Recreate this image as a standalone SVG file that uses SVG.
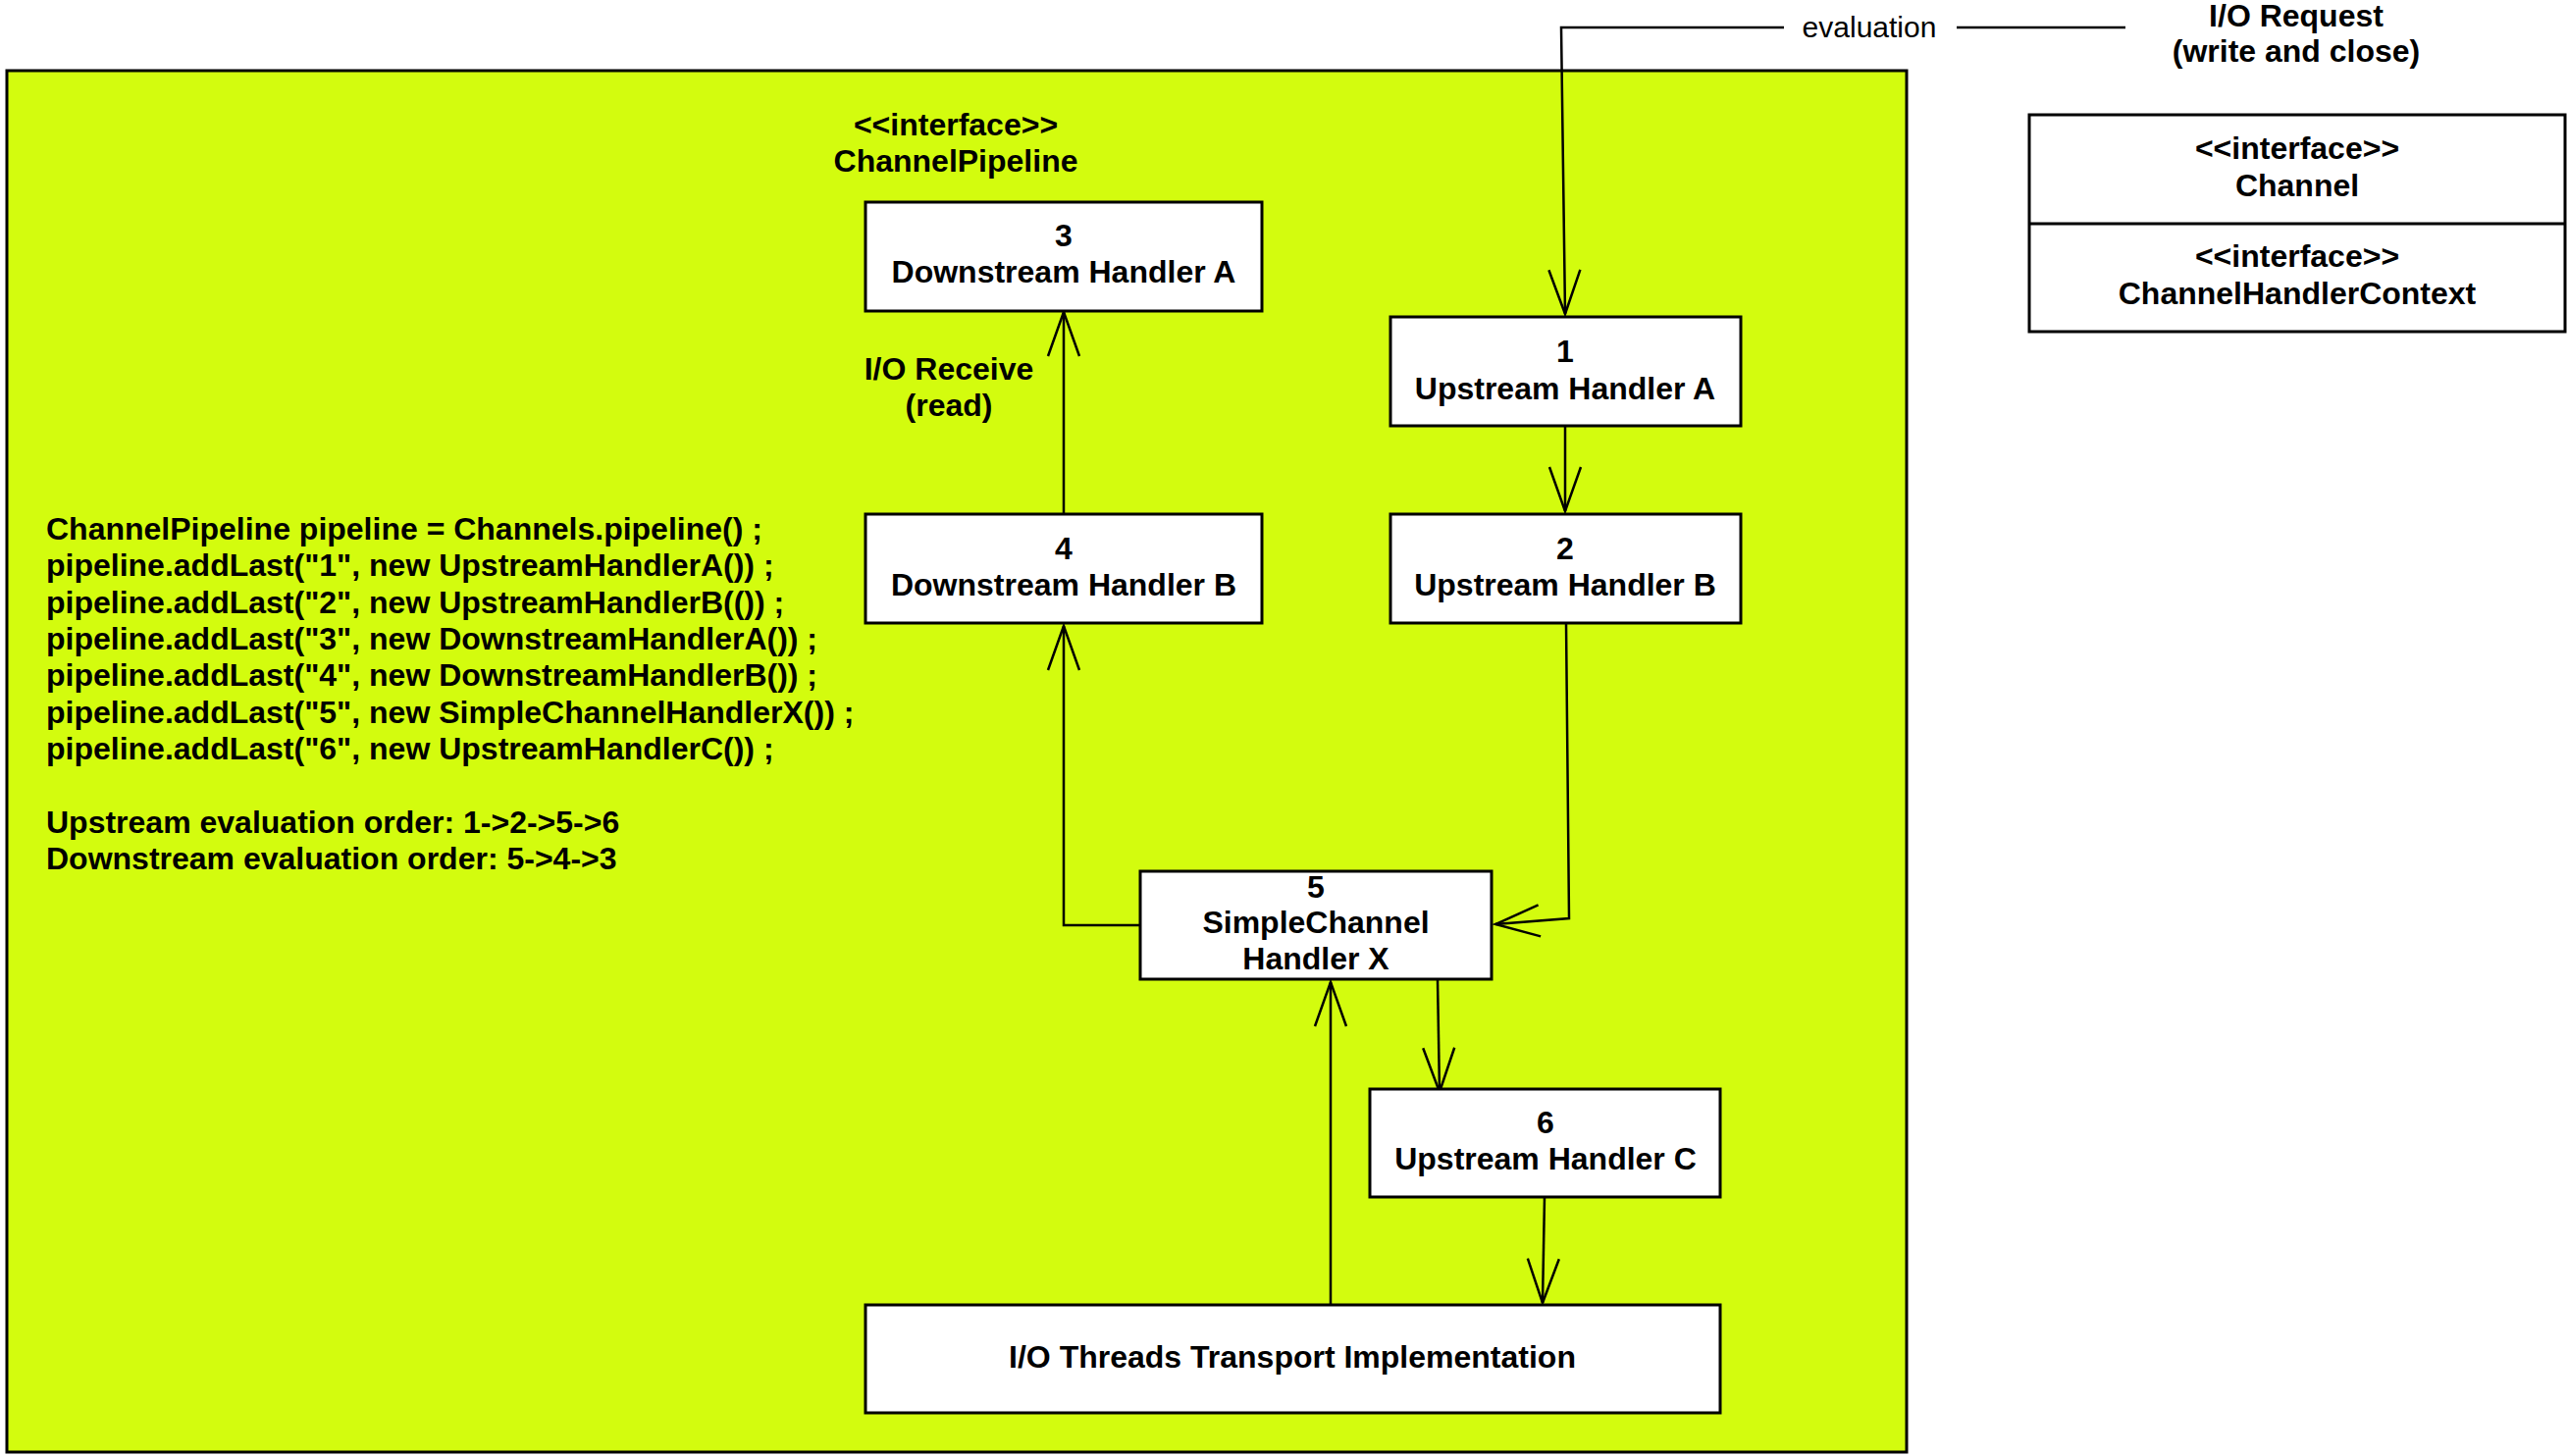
<svg xmlns="http://www.w3.org/2000/svg" width="2617" height="1484" viewBox="0 0 2617 1484">
<style>
text{font-family:"Liberation Sans",Arial,sans-serif;font-weight:bold;font-size:32px;fill:#000}
.c{text-anchor:middle}
.node{fill:#fff;stroke:#000;stroke-width:3}
.edge{fill:none;stroke:#000;stroke-width:2.5;marker-end:url(#open)}
.plain{font-weight:normal;font-size:30px}
</style>
<defs>
<marker id="open" markerUnits="userSpaceOnUse" markerWidth="60" markerHeight="40" viewBox="-50 -20 54 40" refX="0" refY="0" orient="auto" overflow="visible">
<path d="M-45,-16 L0,0 L-45,16" fill="none" stroke="#000" stroke-width="2.5"/>
</marker>
</defs>
<rect width="2617" height="1484" fill="#fff"/>
<g id="pipeline-container">
<rect x="7" y="72" width="1936" height="1408" fill="#d3fc0e" stroke="#000" stroke-width="3"/>
<text class="c" x="974" y="138">&lt;&lt;interface&gt;&gt;</text>
<text class="c" x="974" y="175">ChannelPipeline</text>
</g>
<g id="code">
<text x="47" y="550">ChannelPipeline pipeline = Channels.pipeline() ;</text>
<text x="47" y="587">pipeline.addLast("1", new UpstreamHandlerA()) ;</text>
<text x="47" y="625">pipeline.addLast("2", new UpstreamHandlerB(()) ;</text>
<text x="47" y="662">pipeline.addLast("3", new DownstreamHandlerA()) ;</text>
<text x="47" y="699">pipeline.addLast("4", new DownstreamHandlerB()) ;</text>
<text x="47" y="737">pipeline.addLast("5", new SimpleChannelHandlerX()) ;</text>
<text x="47" y="774">pipeline.addLast("6", new UpstreamHandlerC()) ;</text>
<text x="47" y="849">Upstream evaluation order: 1-&gt;2-&gt;5-&gt;6</text>
<text x="47" y="886">Downstream evaluation order: 5-&gt;4-&gt;3</text>
</g>
<g id="connectors">
<path class="edge" d="M2166,28 H1591 L1595,320"/>
<rect x="1818" y="8" width="176" height="40" fill="#fff"/>
<text class="c plain" x="1905" y="38">evaluation</text>
<path class="edge" d="M1595,434 L1595,521"/>
<path class="edge" d="M1596,635 L1599,936 L1524,942"/>
<path class="edge" d="M1162,943 L1084,943 L1084,638"/>
<path class="edge" d="M1084,524 L1084,318"/>
<text class="c" x="967" y="387">I/O Receive</text>
<text class="c" x="967" y="424">(read)</text>
<path class="edge" d="M1356,1330 L1356,1001"/>
<path class="edge" d="M1465,998 L1467,1113"/>
<path class="edge" d="M1574,1220 L1572,1328"/>
</g>
<g id="io-request">
<text class="c" x="2340" y="27">I/O Request</text>
<text class="c" x="2340" y="63">(write and close)</text>
</g>
<g id="node3">
<rect class="node" x="882" y="206" width="404" height="111"/>
<text class="c" x="1084" y="251">3</text>
<text class="c" x="1084" y="288">Downstream Handler A</text>
</g>
<g id="node1">
<rect class="node" x="1417" y="323" width="357" height="111"/>
<text class="c" x="1595" y="369">1</text>
<text class="c" x="1595" y="407">Upstream Handler A</text>
</g>
<g id="node4">
<rect class="node" x="882" y="524" width="404" height="111"/>
<text class="c" x="1084" y="570">4</text>
<text class="c" x="1084" y="607">Downstream Handler B</text>
</g>
<g id="node2">
<rect class="node" x="1417" y="524" width="357" height="111"/>
<text class="c" x="1595" y="570">2</text>
<text class="c" x="1595" y="607">Upstream Handler B</text>
</g>
<g id="node5">
<rect class="node" x="1162" y="888" width="358" height="110"/>
<text class="c" x="1341" y="915">5</text>
<text class="c" x="1341" y="951">SimpleChannel</text>
<text class="c" x="1341" y="988">Handler X</text>
</g>
<g id="node6">
<rect class="node" x="1396" y="1110" width="357" height="110"/>
<text class="c" x="1575" y="1155">6</text>
<text class="c" x="1575" y="1192">Upstream Handler C</text>
</g>
<g id="transport">
<rect class="node" x="882" y="1330" width="871" height="110"/>
<text class="c" x="1317" y="1394">I/O Threads Transport Implementation</text>
</g>
<g id="channel">
<rect class="node" x="2068" y="117" width="546" height="221"/>
<line x1="2068" y1="228" x2="2614" y2="228" stroke="#000" stroke-width="3"/>
<text class="c" x="2341" y="162">&lt;&lt;interface&gt;&gt;</text>
<text class="c" x="2341" y="200">Channel</text>
<text class="c" x="2341" y="272">&lt;&lt;interface&gt;&gt;</text>
<text class="c" x="2341" y="310">ChannelHandlerContext</text>
</g>
</svg>
